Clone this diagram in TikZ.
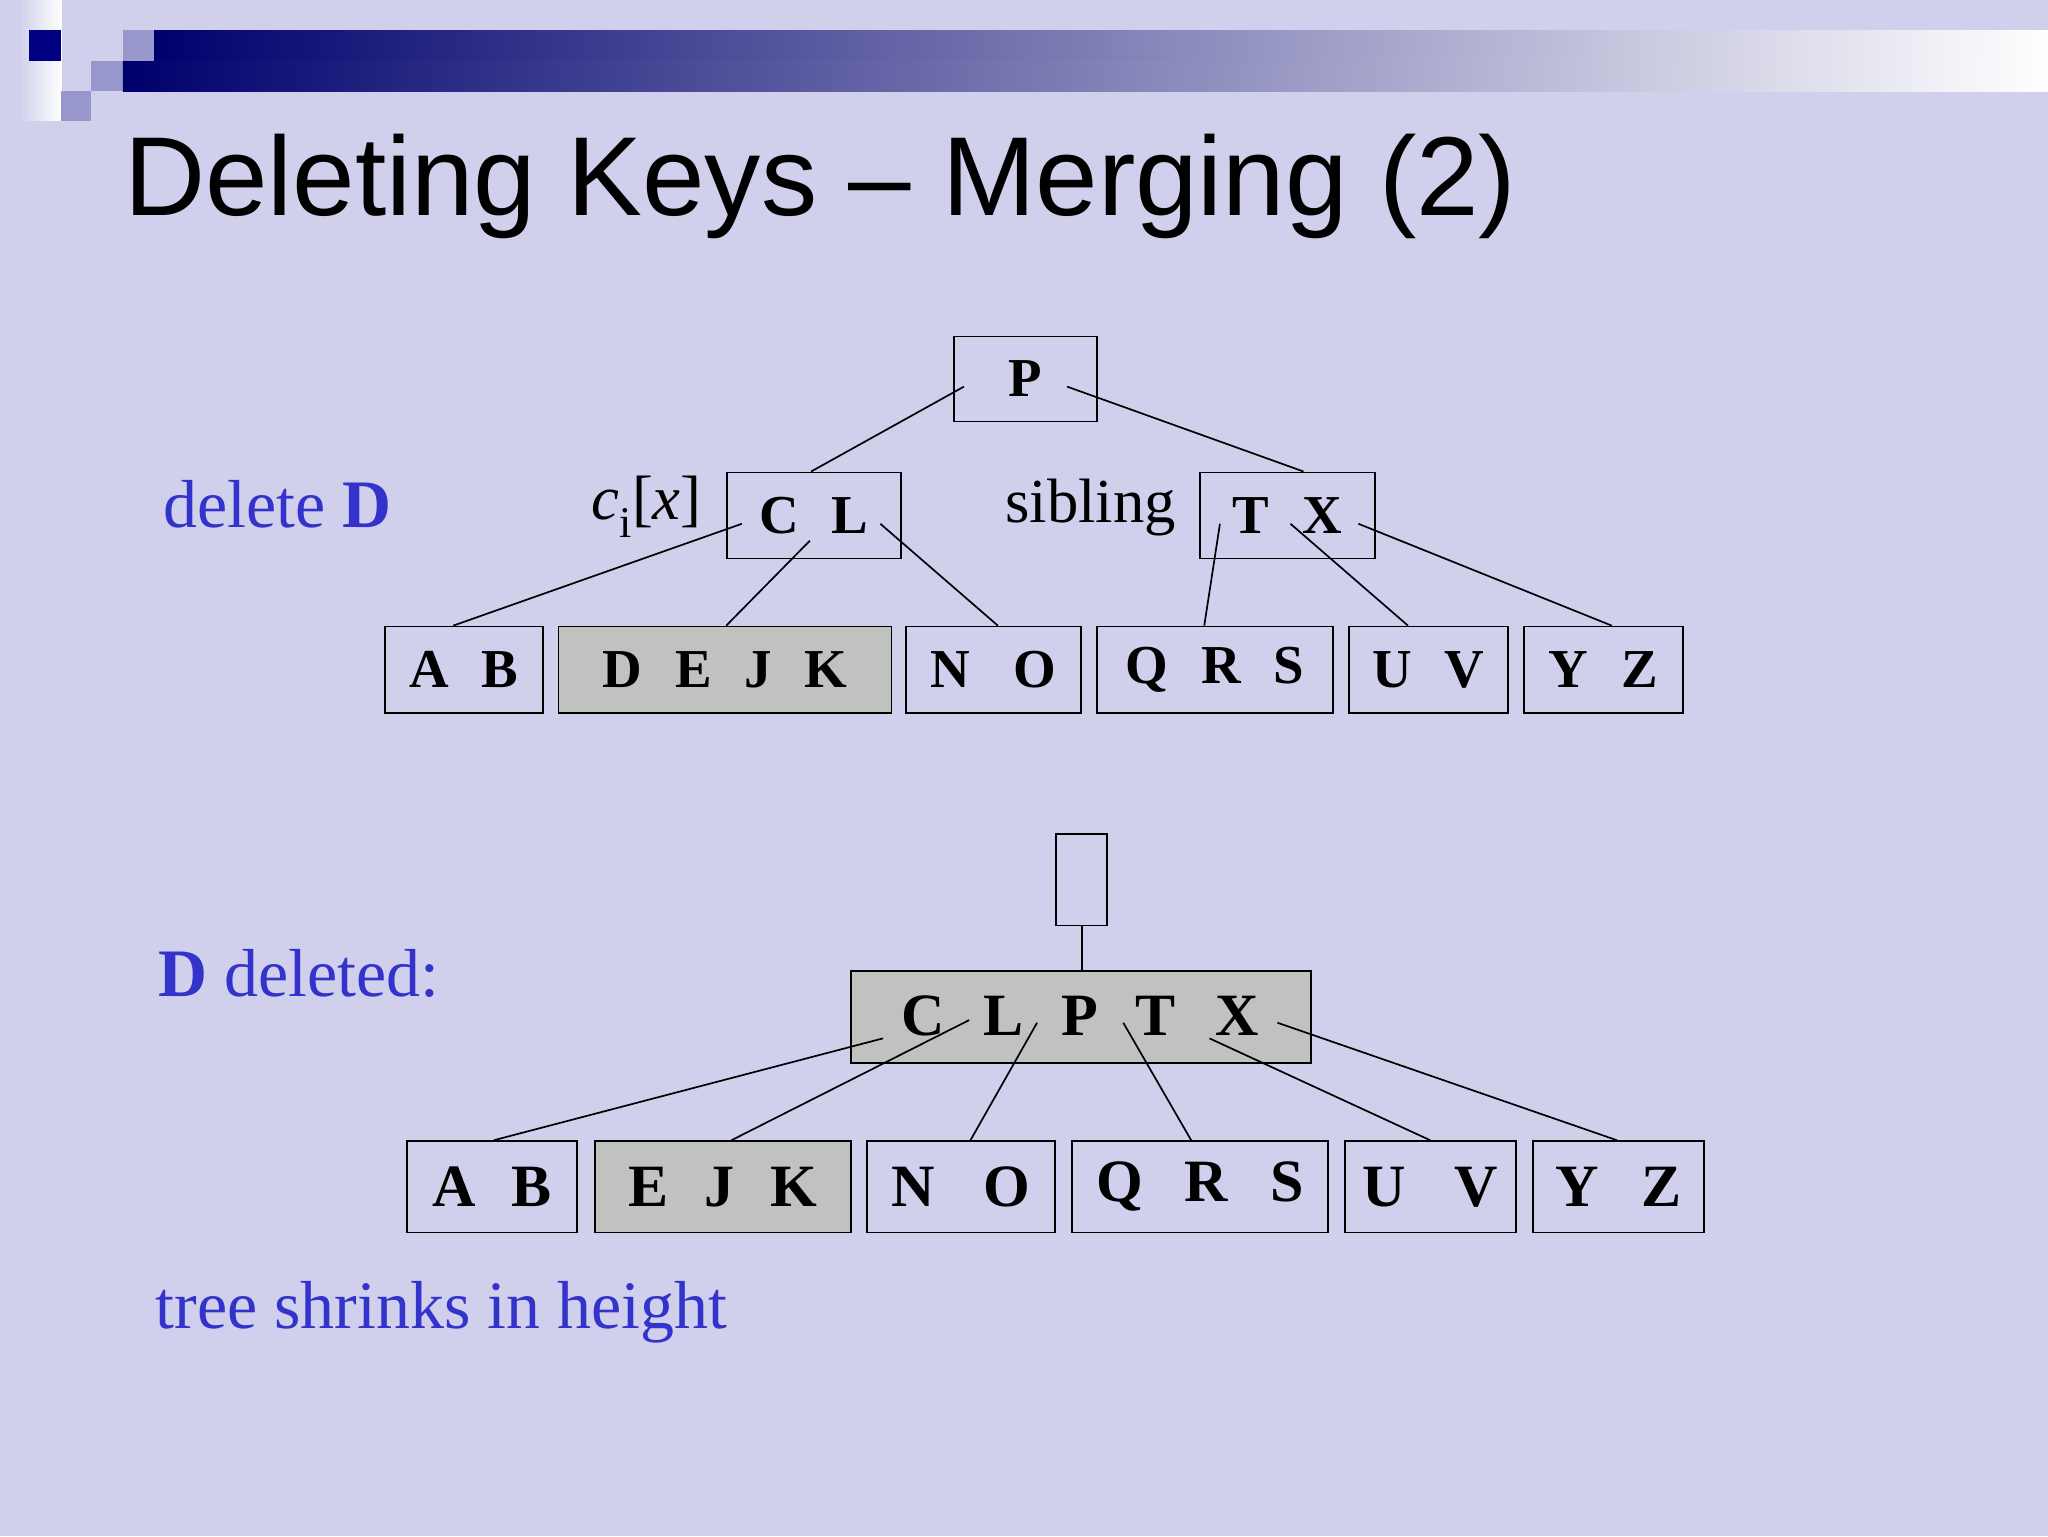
\documentclass[tikz,border=0pt]{standalone}
\usepackage{fontspec}
\setmainfont{Liberation Serif}
\newfontfamily\titlefont{Liberation Sans}
\definecolor{bg}{RGB}{208,208,236}
\definecolor{navy}{RGB}{0,0,128}
\definecolor{lsq}{RGB}{152,152,204}
\definecolor{lbl}{RGB}{51,51,204}
\definecolor{gfill}{RGB}{192,194,192}
\tikzset{
 keybox/.style={draw=black,line width=1.3pt,inner sep=0pt,anchor=north west},
 keys/.style={font=\fontsize{42}{42}\selectfont\bfseries},
 bkeys/.style={font=\fontsize{46}{46}\selectfont\bfseries},
 conn/.style={line width=1.3pt},
 lab/.style={font=\fontsize{52}{52}\selectfont,text=lbl,anchor=base west,inner sep=0pt}
}
\begin{document}
\begin{tikzpicture}[x=1pt,y=-1pt]
\fill[bg] (0,0) rectangle (1568,1176);
\useasboundingbox (0,0) rectangle (1568,1176);
% decoration
\shade[left color=bg,right color=white] (15,0) rectangle (47,92);
\fill[navy] (22,23) rectangle (47,47);
\fill[lsq] (94,23) rectangle (118,47);
\fill[lsq] (70,47) rectangle (94,70);
\fill[lsq] (47,70) rectangle (70,93);
\shade[left color=navy!85!black,right color=white] (118,23) rectangle (1568,47);
\shade[left color=navy!85!black,right color=white] (94,47) rectangle (1568,70);
% title
\node[anchor=base west,inner sep=0pt,font=\titlefont\fontsize{86}{86}\selectfont] (title) at (95,165) {Deleting Keys – Merging (2)};
% labels
\node[lab] (l1) at (125,404) {delete \textbf{D}};
\node[lab] (l2) at (121,763) {\textbf{D} deleted:};
\node[lab] (l3) at (119,1017) {tree shrinks in height};
\node[anchor=base,inner sep=0pt,font=\fontsize{48}{48}\selectfont] (ci) at (495,398) {\textit{c}\textsubscript{i}[\textit{x}]};
\node[anchor=base,inner sep=0pt,font=\fontsize{48}{48}\selectfont] (sib) at (835,400) {sibling};
% top tree boxes
\node[keybox,minimum width=109,minimum height=65] (P) at (730,257) {};
\node[keys] at (P.center) {P};
\node[keybox,minimum width=133,minimum height=66] (CL) at (556,361) {};
\node[keys] at (CL.center) {C\hspace{0.6em}L};
\node[keybox,minimum width=134,minimum height=66] (TX) at (918,361) {};
\node[keys] at (TX.center) {T\hspace{0.6em}X};
\node[keybox,minimum width=121,minimum height=66] (AB) at (294,479) {};
\node[keys] at (AB.center) {A\hspace{0.6em}B};
\node[keybox,fill=gfill,minimum width=255,minimum height=66] (DEJK) at (427,479) {};
\node[keys] at (DEJK.center) {D\hspace{0.6em}E\hspace{0.6em}J\hspace{0.6em}K};
\node[keybox,minimum width=134,minimum height=66] (NO) at (693,479) {};
\node[keys] at (NO.center) {N\hspace{0.8em}O};
\node[keybox,minimum width=181,minimum height=66] (QRS) at (839,479) {};
\node[keys] at (QRS.center) {Q\hspace{0.6em}R\hspace{0.6em}S};
\node[keybox,minimum width=122,minimum height=66] (UV) at (1032,479) {};
\node[keys] at (UV.center) {U\hspace{0.6em}V};
\node[keybox,minimum width=122,minimum height=66] (YZ) at (1166,479) {};
\node[keys] at (YZ.center) {Y\hspace{0.6em}Z};
% top connectors
\coordinate (p1) at (738,296); \coordinate (p2) at (817,296);
\coordinate (c1) at (568,401); \coordinate (c2) at (620,414); \coordinate (c3) at (674,401);
\coordinate (t1) at (934,401); \coordinate (t2) at (988,401); \coordinate (t3) at (1040,401);
\draw[conn] (p1) -- (621,361);
\draw[conn] (p2) -- (998,361);
\draw[conn] (c1) -- (347,479);
\draw[conn] (c2) -- (556,479);
\draw[conn] (c3) -- (764,479);
\draw[conn] (t1) -- (922,479);
\draw[conn] (t2) -- (1078,479);
\draw[conn] (t3) -- (1234,479);
% bottom tree
\node[keybox,minimum width=39,minimum height=70] (E) at (808,638) {};
\node[keybox,fill=gfill,minimum width=352,minimum height=70] (M) at (651,743) {};
\draw[conn] (E.south) -- (M.north -| E.south);
\node[bkeys] at (707,778) {C};
\node[bkeys] at (768,778) {L};
\node[bkeys] at (827,778) {P};
\node[bkeys] at (885,778) {T};
\node[bkeys] at (947,778) {X};
\node[keybox,minimum width=130,minimum height=70] (AB2) at (311,873) {};
\node[bkeys] at (AB2.center) {A\hspace{0.6em}B};
\node[keybox,fill=gfill,minimum width=196,minimum height=70] (EJK) at (455,873) {};
\node[bkeys] at (EJK.center) {E\hspace{0.6em}J\hspace{0.6em}K};
\node[keybox,minimum width=144,minimum height=70] (NO2) at (663,873) {};
\node[bkeys] at (NO2.center) {N\hspace{0.8em}O};
\node[keybox,minimum width=196,minimum height=70] (QRS2) at (820,873) {};
\node[bkeys] at (QRS2.center) {Q\hspace{0.7em}R\hspace{0.7em}S};
\node[keybox,minimum width=131,minimum height=70] (UV2) at (1029,873) {};
\node[bkeys] at (UV2.center) {U\hspace{0.8em}V};
\node[keybox,minimum width=131,minimum height=70] (YZ2) at (1173,873) {};
\node[bkeys] at (YZ2.center) {Y\hspace{0.7em}Z};
\coordinate (m1) at (676,795); \coordinate (m2) at (742,781); \coordinate (m3) at (794,783);
\coordinate (m4) at (860,783); \coordinate (m5) at (926,795); \coordinate (m6) at (978,783);
\draw[conn] (m1) -- (378,873);
\draw[conn] (m2) -- (560,873);
\draw[conn] (m3) -- (743,873);
\draw[conn] (m4) -- (912,873);
\draw[conn] (m5) -- (1095,873);
\draw[conn] (m6) -- (1238,873);
\end{tikzpicture}
\end{document}
